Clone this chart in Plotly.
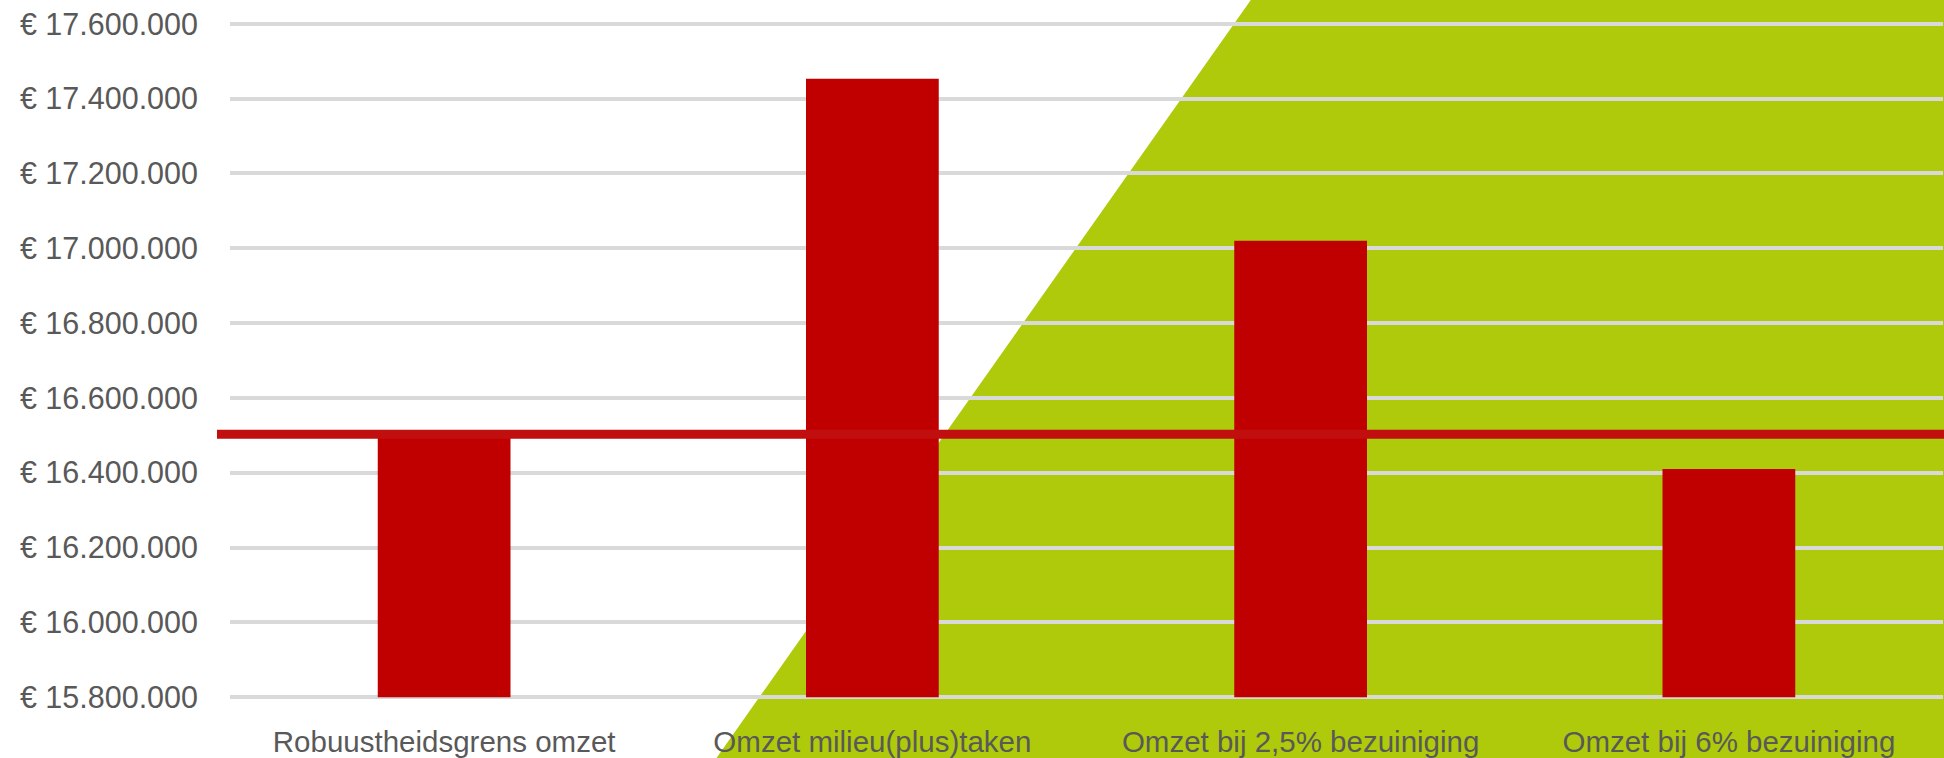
import plotly.graph_objects as go

categories = ["Robuustheidsgrens omzet", "Omzet milieu(plus)taken",
              "Omzet bij 2,5% bezuiniging", "Omzet bij 6% bezuiniging"]
omzet = [16503000, 17453000, 17020000, 16410000]
robuustheidsgrens = 16503000
tick_values = [15800000, 16000000, 16200000, 16400000, 16600000,
               16800000, 17000000, 17200000, 17400000, 17600000]
tick_labels = ["€ 15.800.000", "€ 16.000.000", "€ 16.200.000", "€ 16.400.000",
               "€ 16.600.000", "€ 16.800.000", "€ 17.000.000", "€ 17.200.000",
               "€ 17.400.000", "€ 17.600.000"]

W, H = 1944, 758
pad_val = 5000  # small range padding so the edge gridlines are drawn
span = tick_values[-1] - tick_values[0]
pix_per_unit = (697 - 24) / span
pad_px = pad_val * pix_per_unit
ml, mr = 230, 1
mt, mb = 24 - pad_px, (H - 697) - pad_px
pw, ph = W - ml - mr, H - mt - mb

def px(x):
    return (x - ml) / pw

def py(y):
    return (H - mb - y) / ph

green = [(1258, -10), (1970, -10), (1970, 770), (708, 770)]
path = "M " + " L ".join(f"{px(a):.4f},{py(b):.4f}" for a, b in green) + " Z"

fig = go.Figure()
fig.add_trace(go.Bar(
    x=categories, y=[v - tick_values[0] for v in omzet], base=tick_values[0],
    marker=dict(color="#C00000", line=dict(color="#C00000", width=0)),
    width=0.31, hoverinfo="skip",
))

fig.update_layout(
    width=W, height=H,
    margin=dict(l=ml, r=mr, t=mt, b=mb, pad=0),
    paper_bgcolor="white",
    plot_bgcolor="rgba(0,0,0,0)",
    showlegend=False,
    font=dict(family="Liberation Sans, Arial, sans-serif", color="#595959"),
    shapes=[
        dict(type="path", path=path, xref="paper", yref="paper",
             fillcolor="#AFCA0B", line=dict(width=0), layer="below"),
        dict(type="line", xref="paper", yref="y", x0=-0.0076, x1=1.01,
             y0=robuustheidsgrens, y1=robuustheidsgrens,
             line=dict(color="#C10F0F", width=9), layer="above"),
    ],
)
fig.update_xaxes(showgrid=False, showline=False, zeroline=False, ticks="",
                 tickfont=dict(size=29.5, color="#595959"), ticklabelstandoff=22)
fig.update_yaxes(range=[tick_values[0] - pad_val, tick_values[-1] + pad_val],
                 tickvals=tick_values, ticktext=tick_labels, showgrid=True,
                 gridcolor="#D9D9D9", gridwidth=3.5, zeroline=False,
                 showline=False, ticks="",
                 tickfont=dict(size=30.5, color="#595959"), ticklabelstandoff=31)

fig.write_html(
    "out.html",
    config={"displayModeBar": False},
    post_script="document.body.style.margin='0';document.body.style.overflow='hidden';",
)
